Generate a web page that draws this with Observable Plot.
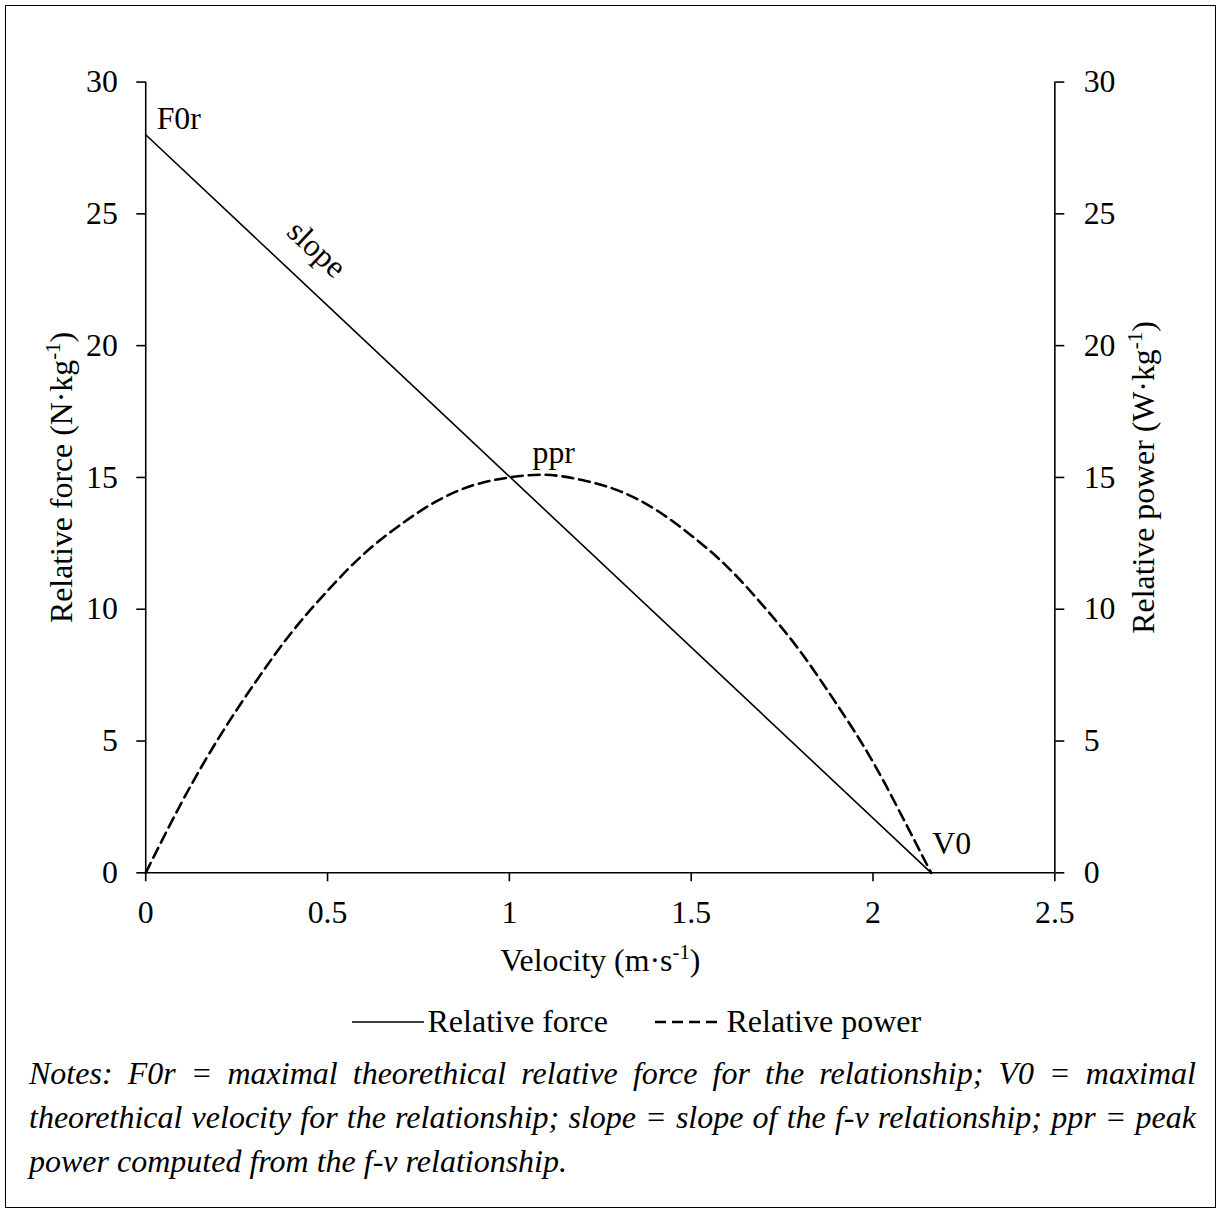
<!DOCTYPE html>
<html>
<head>
<meta charset="utf-8">
<script src="https://cdn.jsdelivr.net/npm/d3@7"></script>
<script src="https://cdn.jsdelivr.net/npm/@observablehq/plot@0.6"></script>
<style>
  html, body { margin: 0; padding: 0; background: #fff; }
  #page {
    position: absolute; left: 5px; top: 5px; width: 1211px; height: 1203px;
    border: 1.5px solid #000; box-sizing: border-box; overflow: hidden;
  }
  #chart { position: absolute; left: -6.5px; top: -6.5px; }
  .serif { font-family: "Liberation Serif", "Times New Roman", serif; color: #000; }
  #legend {
    position: absolute; left: -6.5px; top: 990px; width: 1222px; height: 50px;
    font-size: 32px;
  }
  #legend .item { position: absolute; top: 0; white-space: nowrap; line-height: 50px; }
  #legend svg { position: absolute; top: 0; }
  #notes {
    position: absolute; left: 23px; top: 1045px; width: 1167px;
    font-size: 32px; font-style: italic; line-height: 44px;
  }
  #notes .j { text-align: justify; text-align-last: justify; white-space: nowrap; }
  #notes .l { text-align: left; }
</style>
</head>
<body>
<div id="page">
  <div id="chart"></div>
  <div id="legend" class="serif"></div>
  <div id="notes" class="serif"></div>
</div>
<script>
// ---- data ----
const xTicks = [0, 0.5, 1, 1.5, 2, 2.5];
const yTicks = [0, 5, 10, 15, 20, 25, 30];

// relative force (N·kg-1) vs velocity (m·s-1): straight f-v line
const forceVelocity = [0, 2.16];
const forceValues   = [28, 0];

// relative power (W·kg-1) vs velocity (m·s-1)
const powerVelocity = [0, 0.1, 0.2, 0.3, 0.4, 0.5, 0.6, 0.7, 0.8, 0.9, 1.0, 1.1,
                       1.2, 1.3, 1.4, 1.5, 1.6, 1.7, 1.8, 1.9, 2.0, 2.1, 2.16];
const powerValues   = [0, 2.7, 5.1, 7.2, 9.1, 10.7, 12.1, 13.2, 14.1, 14.7, 15.0, 15.1,
                       14.9, 14.5, 13.8, 12.8, 11.6, 10.1, 8.4, 6.4, 4.2, 1.6, 0];

// annotation labels
const annLabels = ["F0r", "slope", "ppr", "V0"];
const annVel    = [0, 0.462, 1.1, 2.16];
const annVal    = [28, 22.0, 15.1, 0];

const seriesNames = ["Relative force", "Relative power"];
const xTitle = "Velocity (m·s-1)";
const yTitleLeft = "Relative force (N·kg-1)";
const yTitleRight = "Relative power (W·kg-1)";
const notesLines = [
  "Notes: F0r = maximal theorethical relative force for the relationship; V0 = maximal",
  "theorethical velocity for the relationship; slope = slope of the f-v relationship; ppr = peak",
  "power computed from the f-v relationship."
];

// ---- build tables ----
const force = forceVelocity.map((v, i) => ({v, y: forceValues[i]}));
const power = powerVelocity.map((v, i) => ({v, y: powerValues[i]}));
const ann = annLabels.map((label, i) => ({label, v: annVel[i], y: annVal[i]}));
const annBy = k => ann.filter(d => d.label === k);

const font = '"Liberation Serif", "Times New Roman", serif';

const plot = Plot.plot({
  width: 1222,
  height: 990,
  marginLeft: 146,
  marginRight: 162,
  marginTop: 82,
  marginBottom: 113,
  x: {domain: [0, 2.5]},
  y: {domain: [0, 30]},
  style: {fontFamily: font, fontSize: "32px", color: "#000", background: "transparent", overflow: "visible"},
  marks: [
    Plot.axisY(yTicks, {anchor: "left", tickSize: 9, tickPadding: 19, label: null, strokeWidth: 1.6}),
    Plot.axisY(yTicks, {anchor: "right", tickSize: 9, tickPadding: 20, label: null, strokeWidth: 1.6}),
    Plot.axisX(xTicks, {anchor: "bottom", tickSize: 9, tickPadding: 19, label: null, strokeWidth: 1.6,
      tickFormat: d => String(d)}),
    Plot.ruleX([0, 2.5], {stroke: "#000", strokeWidth: 1.6}),
    Plot.ruleY([0], {stroke: "#000", strokeWidth: 1.6}),
    Plot.line(power, {x: "v", y: "y", curve: "natural", stroke: "#000", strokeWidth: 2.6,
      strokeDasharray: "11,6"}),
    Plot.line(force, {x: "v", y: "y", stroke: "#000", strokeWidth: 1.6}),
    Plot.text(annBy("F0r"), {x: "v", y: "y", text: "label", textAnchor: "start", dx: 11, dy: -16, fontSize: 32}),
    Plot.text(annBy("slope"), {x: "v", y: "y", text: "label", rotate: 43, dx: 3, dy: -44, fontSize: 32}),
    Plot.text(annBy("ppr"), {x: "v", y: "y", text: "label", dx: 8, dy: -22, fontSize: 32}),
    Plot.text(annBy("V0"), {x: "v", y: "y", text: "label", textAnchor: "start", dx: 1, dy: -29, fontSize: 32}),
    Plot.text([xTitle], {frameAnchor: "bottom", text: d => d, textAnchor: "middle", lineAnchor: "middle",
      dy: 88, fontSize: 32}),
    Plot.text([yTitleLeft], {frameAnchor: "left", text: d => d, textAnchor: "middle", lineAnchor: "middle",
      dx: -84, rotate: -90, fontSize: 32}),
    Plot.text([yTitleRight], {frameAnchor: "right", text: d => d, textAnchor: "middle", lineAnchor: "middle",
      dx: 89, rotate: -90, fontSize: 32})
  ]
});
document.getElementById("chart").appendChild(plot);

// superscript "-1" in unit labels
d3.select(plot).selectAll("text").each(function () {
  const t = this.textContent;
  const m = t.match(/^(.*)-1\)$/);
  if (!m || t.length < 8) return;
  const sel = d3.select(this);
  sel.text(null);
  sel.append("tspan").text(m[1]);
  sel.append("tspan").attr("font-size", "21px").attr("dy", "-12px").text("-1");
  sel.append("tspan").attr("dy", "12px").text(")");
});

// legend
const legend = document.getElementById("legend");
const items = [
  {name: seriesNames[0], dash: null, lineX: 352, lineW: 72, textX: 428},
  {name: seriesNames[1], dash: "11,6", lineX: 655, lineW: 68, textX: 727}
];
for (const it of items) {
  const s = d3.select(legend).append("svg")
    .attr("width", it.lineW).attr("height", 50)
    .style("left", it.lineX + "px");
  s.append("line").attr("x1", 0).attr("x2", it.lineW).attr("y1", 26).attr("y2", 26)
    .attr("stroke", "#000").attr("stroke-width", it.dash ? 2.6 : 1.6)
    .attr("stroke-dasharray", it.dash);
  d3.select(legend).append("div").attr("class", "item")
    .style("left", it.textX + "px").text(it.name);
}

// notes
const notes = d3.select("#notes");
notesLines.forEach((line, i) => {
  notes.append("div").attr("class", i < notesLines.length - 1 ? "j" : "l").text(line);
});
</script>
</body>
</html>
